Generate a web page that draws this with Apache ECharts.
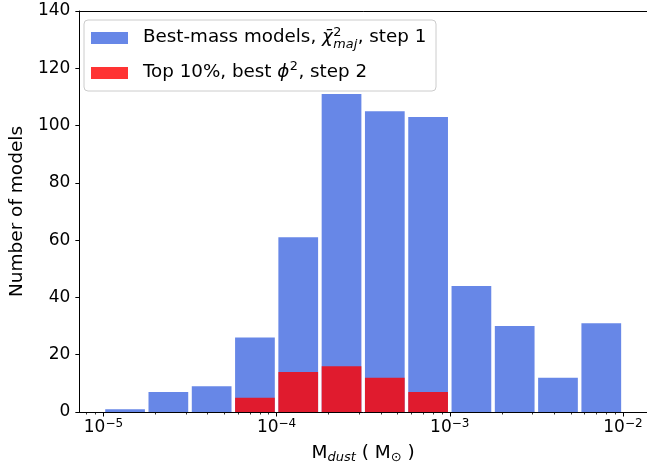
<!DOCTYPE html>
<html><head><meta charset="utf-8">
<script src="https://cdn.jsdelivr.net/npm/echarts@6/dist/echarts.min.js"></script>
<style>html,body{margin:0;padding:0;background:#fff}#c{width:647px;height:470px}</style>
</head><body><div id="c"></div>
<script>
// ---- data ----
const binExponents = [-5, -4.75, -4.5, -4.25, -4, -3.75, -3.5, -3.25, -3, -2.75, -2.5, -2.25, -2];
const bestMassCounts = [1, 7, 9, 26, 61, 111, 105, 103, 44, 30, 12, 31];
const top10Counts = [0, 0, 0, 5, 14, 16, 12, 7, 0, 0, 0, 0];
const yTickValues = [0, 20, 40, 60, 80, 100, 120, 140];
const xMajorExponents = [-5, -4, -3, -2];
const xMinorMultipliers = [2, 3, 4, 5, 6, 7, 8, 9];
const seriesNames = ['Best-mass models', 'Top 10%'];

// ---- styling ----
const FONT = 'DejaVu Sans';
const BLUE = 'rgba(65,105,225,0.8)';
const RED = 'rgba(255,0,0,0.8)';
const LF = 18.5, LS = 13;      // axis-label font and script size
const GF = 18.3, GS = 12.8;    // legend font and script size
const xMin = Math.pow(10, -5.139), xMax = Math.pow(10, -1.861);
const barGap = 0.0103; // decades trimmed each side (rwidth)

const majorVals = xMajorExponents.map(e => Math.pow(10, e));
const minorVals = [];
for (let e = -6; e <= -2; e++) xMinorMultipliers.forEach(m => { const v = m * Math.pow(10, e); if (v > xMin && v < xMax) minorVals.push(v); });

function binData(counts) {
  return counts.map((c, i) => [Math.pow(10, binExponents[i] + barGap), Math.pow(10, binExponents[i + 1] - barGap), c]);
}
function renderBars(color) {
  return function (params, api) {
    const n = api.value(2);
    if (!n) return null;
    const a = api.coord([api.value(0), n]);
    const b = api.coord([api.value(1), 0]);
    return { type: 'rect', shape: { x: a[0], y: a[1], width: b[0] - a[0], height: b[1] - a[1] }, style: { fill: color } };
  };
}

// ---- legend (mathtext-like layout) ----
const mctx = document.createElement('canvas').getContext('2d');
function tw(t, s, it) { mctx.font = (it ? 'italic ' : '') + s + 'px "' + FONT + '"'; return mctx.measureText(t).width; }
function layoutRow(pieces, x0, yc) {
  const els = []; let x = x0; let hold = 0;
  pieces.forEach(p => {
    const w = tw(p.t, p.s, p.it);
    els.push({ type: 'text', z: 101, style: { text: p.t, x: x, y: yc + (p.dy || 0), fontSize: p.s, fontFamily: FONT, fontStyle: p.it ? 'italic' : 'normal', fill: '#000', align: 'left', verticalAlign: 'middle' } });
    if (p.hold) hold = Math.max(hold, w); else { x += Math.max(w, hold) + (p.pad || 0); hold = 0; }
  });
  return els;
}
const row1 = layoutRow([
  { t: seriesNames[0] + ', ', s: GF },
  { t: 'χ̄', s: GF, it: true, pad: 0.5 },
  { t: '2', s: GS, dy: -5.2, hold: true },
  { t: 'maj', s: GS, it: true, dy: 6.8, pad: 0.5 },
  { t: ', step 1', s: GF }
], 143, 37.5);
const row2 = layoutRow([
  { t: seriesNames[1] + ', best ', s: GF },
  { t: 'ϕ', s: GF, it: true, pad: 0.5 },
  { t: '2', s: GS, dy: -5.2, pad: 0.5 },
  { t: ', step 2', s: GF }
], 143, 72);

const legendGraphics = [
  { type: 'rect', z: 100, shape: { x: 84, y: 20, width: 352, height: 71, r: 4 }, style: { fill: 'rgba(255,255,255,0.8)', stroke: '#cccccc', lineWidth: 1 } },
  { type: 'rect', z: 101, shape: { x: 91, y: 32, width: 37, height: 12 }, style: { fill: BLUE } },
  { type: 'rect', z: 101, shape: { x: 91, y: 67, width: 37, height: 12 }, style: { fill: RED } }
].concat(row1, row2);

const chart = echarts.init(document.getElementById('c'), null, { renderer: 'canvas' });
chart.setOption({
  animation: false,
  backgroundColor: '#fff',
  textStyle: { fontFamily: FONT },
  grid: { left: 75, right: 0, top: 11, bottom: 58, containLabel: false },
  xAxis: [
    {
      type: 'log', logBase: 10, min: xMin, max: xMax, position: 'bottom',
      axisLine: { show: true, onZero: false, lineStyle: { color: '#000', width: 1 } },
      axisTick: { show: true, length: 4.5, customValues: majorVals, lineStyle: { color: '#000', width: 1 } },
      axisLabel: {
        show: true, customValues: majorVals, margin: 6,
        formatter: v => '{b|10}{s|−' + Math.round(-Math.log10(v)) + '}',
        rich: {
          b: { fontSize: 17, lineHeight: 20, fontFamily: FONT, color: '#000' },
          s: { fontSize: 12, lineHeight: 10.5, verticalAlign: 'top', fontFamily: FONT, color: '#000' }
        }
      },
      splitLine: { show: false },
      name: '{m|M}{sub|dust}{m| ( M}{sub2|⊙}{m| )}',
      nameLocation: 'middle', nameGap: 30,
      nameTextStyle: {
        rich: {
          m: { fontSize: LF, lineHeight: 22, fontFamily: FONT, color: '#000' },
          sub: { fontSize: LS, lineHeight: 12, verticalAlign: 'bottom', fontStyle: 'italic', fontFamily: FONT, color: '#000' },
          sub2: { fontSize: LS, lineHeight: 12, verticalAlign: 'bottom', fontFamily: FONT, color: '#000' }
        }
      }
    },
    {
      type: 'log', logBase: 10, min: xMin, max: xMax, position: 'bottom', gridIndex: 0,
      axisLine: { show: false },
      axisTick: { show: true, length: 2.5, customValues: minorVals, lineStyle: { color: '#000', width: 0.8 } },
      axisLabel: { show: false }, splitLine: { show: false }
    },
    {
      type: 'log', logBase: 10, min: xMin, max: xMax, position: 'top', gridIndex: 0,
      axisLine: { show: true, onZero: false, lineStyle: { color: '#000', width: 1 } },
      axisTick: { show: false }, axisLabel: { show: false }, splitLine: { show: false }
    }
  ],
  yAxis: {
    type: 'value', min: yTickValues[0], max: yTickValues[yTickValues.length - 1], interval: 20,
    axisLine: { show: true, lineStyle: { color: '#000', width: 1 } },
    axisTick: { show: true, length: 4, lineStyle: { color: '#000', width: 1 } },
    axisLabel: { margin: 9, fontSize: 17, color: '#000', fontFamily: FONT },
    splitLine: { show: false },
    name: 'Number of models', nameLocation: 'middle', nameGap: 48,
    nameTextStyle: { fontSize: LF, color: '#000', fontFamily: FONT }
  },
  series: [
    { name: seriesNames[0], type: 'custom', xAxisIndex: 0, renderItem: renderBars(BLUE), encode: { x: [0, 1], y: 2 }, data: binData(bestMassCounts), z: 2 },
    { name: seriesNames[1], type: 'custom', xAxisIndex: 0, renderItem: renderBars(RED), encode: { x: [0, 1], y: 2 }, data: binData(top10Counts), z: 3 }
  ],
  graphic: legendGraphics
});
</script></body></html>
